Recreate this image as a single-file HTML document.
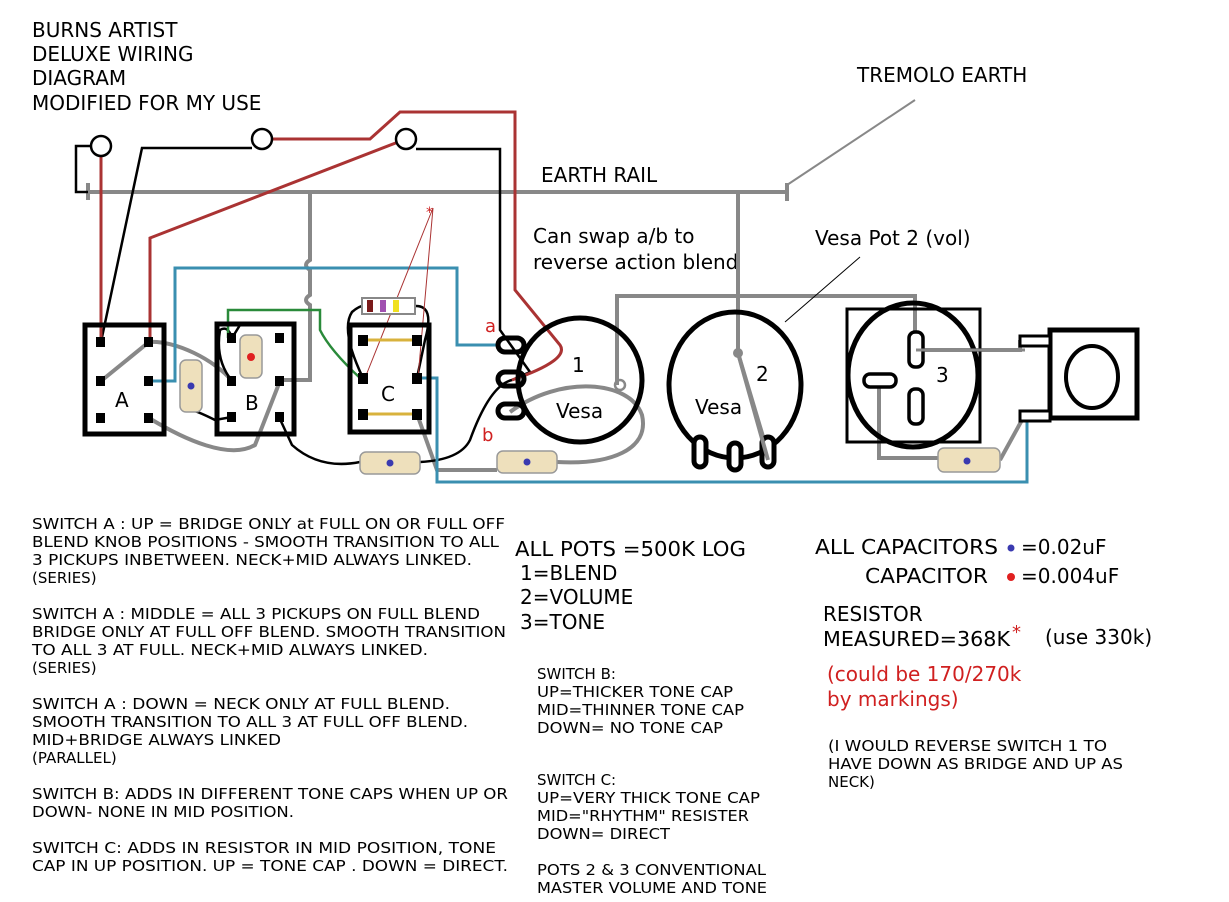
<!DOCTYPE html>
<html><head><meta charset="utf-8"><style>
html,body{margin:0;padding:0;background:#fff;}
svg{display:block;font-family:"DejaVu Sans","Liberation Sans",sans-serif;}
</style></head><body>
<svg width="1229" height="902" viewBox="0 0 1229 902" xmlns="http://www.w3.org/2000/svg">
<rect width="1229" height="902" fill="#fff"/>
<g fill="#000" font-size="20">
<text x="32" y="37">BURNS ARTIST</text>
<text x="32" y="61">DELUXE WIRING</text>
<text x="32" y="85">DIAGRAM</text>
<text x="32" y="110">MODIFIED FOR MY USE</text>
<text x="857" y="82">TREMOLO EARTH</text>
<text x="541" y="182">EARTH RAIL</text>
<text x="533" y="243">Can swap a/b to</text>
<text x="533" y="269">reverse action blend</text>
<text x="815" y="245">Vesa Pot 2 (vol)</text>
<text x="572" y="372">1</text>
<text x="556" y="418">Vesa</text>
<text x="756" y="381">2</text>
<text x="695" y="414">Vesa</text>
<text x="936" y="382">3</text>
<text x="115" y="407">A</text>
<text x="245" y="410">B</text>
<text x="381" y="401">C</text>
</g>
<text x="485" y="332" fill="#d02020" font-size="18">a</text>
<text x="482" y="441" fill="#d02020" font-size="18">b</text>
<!-- earth rail -->
<g stroke="#888" stroke-width="4" fill="none">
<line x1="88" y1="192" x2="787" y2="192"/>
<line x1="88" y1="183" x2="88" y2="200"/>
<line x1="787" y1="183" x2="787" y2="201"/>
<path d="M310 192 V260 q-8 5 0 10 V295 q-8 5 0 10 V380 H280"/>
<path d="M738 192 V353 L770 460"/>
<path d="M617 385 V296 H915 V350"/>
<path d="M879 381 V458 H940"/>
<path d="M915 350 H1020 V342 H1025"/>
<path d="M1000 460 L1022 420"/>
<path d="M101 381 L149 342 C175 340 215 360 232 381"/>
<path d="M149 418 C185 440 230 460 255 445 L280 381"/>
<path d="M417 414 L437 470 H497 M557 462 C610 465 650 450 642 415 C630 380 560 375 510 412"/>
</g>
<line x1="787" y1="185" x2="915" y2="100" stroke="#888" stroke-width="2"/>
<line x1="785" y1="322" x2="860" y2="257" stroke="#000" stroke-width="1"/>
<!-- black wires -->
<g stroke="#000" stroke-width="2.5" fill="none">
<path d="M91 146 H76 V192 H88"/>
<path d="M101 342 L142 148 H252"/>
<path d="M416 149 H500 V330 L530 372 L512 380"/>
<path d="M232 338 L240 325 M232 381 Q215 360 220 330 Q228 325 232 338 M232 417 L215 420 Q195 410 190 410"/>
<path d="M279 417 L292 445 Q320 470 360 462 M420 462 Q460 460 470 440 Q490 385 512 380"/>
<path d="M363 378 Q340 330 352 312 Q360 305 365 306 M415 306 Q435 305 425 340 L417 378"/>
</g>
<!-- red wires -->
<g stroke="#a33" stroke-width="3" fill="none">
<path d="M101 146 V342"/>
<path d="M406 139 L150 238 V342"/>
<path d="M262 139 H370 L400 112 H515 V290 L560 345 Q570 360 512 380"/>
</g>
<!-- blue wires -->
<g stroke="#3a8fb0" stroke-width="3" fill="none">
<path d="M149 381 H175 V268 H457 V345 H500"/>
<path d="M417 378 H437 V482 H1027 V420"/>
</g>
<path d="M228 338 V310 H320 V330 Q330 350 360 378" stroke="#2a8a3a" stroke-width="2.5" fill="none"/>
<path d="M433 208 L365 378 M433 208 L418 378" stroke="#a33" stroke-width="1"/>
<text x="426" y="217" fill="#c22" font-size="14">*</text>
<!-- jack circles -->
<g fill="#fff" stroke="#000" stroke-width="2.5">
<circle cx="101" cy="146" r="10"/>
<circle cx="262" cy="139" r="10"/>
<circle cx="406" cy="139" r="10"/>
</g>
<!-- switches -->
<g fill="none" stroke="#000" stroke-width="5">
<rect x="85" y="325" width="79" height="109"/>
<rect x="217" y="324" width="77" height="110"/>
<rect x="350" y="325" width="79" height="107"/>
</g>
<g fill="#000">
<rect x="96" y="337" width="9" height="10"/><rect x="144" y="337" width="9" height="10"/>
<rect x="96" y="376" width="9" height="10"/><rect x="144" y="376" width="9" height="10"/>
<rect x="96" y="413" width="9" height="10"/><rect x="144" y="413" width="9" height="10"/>
<rect x="227" y="333" width="9" height="10"/><rect x="275" y="333" width="9" height="10"/>
<rect x="227" y="376" width="9" height="10"/><rect x="275" y="376" width="9" height="10"/>
<rect x="227" y="412" width="9" height="10"/><rect x="275" y="412" width="9" height="10"/>
<rect x="358" y="335" width="10" height="11"/><rect x="412" y="335" width="10" height="11"/>
<rect x="358" y="373" width="10" height="11"/><rect x="412" y="373" width="10" height="11"/>
<rect x="358" y="409" width="10" height="11"/><rect x="412" y="409" width="10" height="11"/>
</g>
<g stroke="#d8b23c" stroke-width="3"><line x1="368" y1="340" x2="412" y2="340"/><line x1="368" y1="414" x2="412" y2="414"/></g>
<!-- resistor -->
<rect x="362" y="298" width="53" height="16" fill="#fff" stroke="#888" stroke-width="2"/>
<rect x="367" y="300" width="6" height="12" fill="#7a1a1a"/>
<rect x="380" y="300" width="6" height="12" fill="#a050b0"/>
<rect x="393" y="300" width="6" height="12" fill="#f0e020"/>
<!-- caps -->
<g fill="#eee0bc" stroke="#999" stroke-width="1.5">
<rect x="180" y="360" width="22" height="52" rx="6"/>
<rect x="240" y="335" width="22" height="43" rx="6"/>
<rect x="360" y="452" width="60" height="22" rx="6"/>
<rect x="497" y="451" width="60" height="22" rx="6"/>
<rect x="938" y="448" width="62" height="24" rx="6"/>
</g>
<g fill="#3a3ab0"><circle cx="191" cy="386" r="3.5"/><circle cx="390" cy="463" r="3.5"/><circle cx="527" cy="462" r="3.5"/><circle cx="967" cy="461" r="3.5"/></g>
<circle cx="251" cy="357" r="4" fill="#e02020"/>
<!-- pots -->
<g fill="none" stroke="#000" stroke-width="5">
<ellipse cx="580" cy="380" rx="62" ry="62"/>
<rect x="498" y="338" width="26" height="14" rx="7"/>
<rect x="498" y="372" width="26" height="14" rx="7"/>
<rect x="498" y="404" width="26" height="14" rx="7"/>
<ellipse cx="735" cy="385" rx="66" ry="73"/>
<rect x="694" y="437" width="12" height="30" rx="6" fill="#fff"/>
<rect x="729" y="443" width="12" height="27" rx="6" fill="#fff"/>
<rect x="762" y="437" width="12" height="30" rx="6" fill="#fff"/>
</g>
<g stroke="#888" stroke-width="4"><line x1="738" y1="353" x2="768" y2="460"/></g>
<circle cx="738" cy="353" r="5" fill="#888"/>
<circle cx="620" cy="385" r="5" fill="none" stroke="#888" stroke-width="2.5"/>
<rect x="847" y="309" width="133" height="133" fill="none" stroke="#000" stroke-width="3"/>
<ellipse cx="913" cy="375" rx="65" ry="72" fill="none" stroke="#000" stroke-width="5"/>
<g fill="#fff" stroke="#000" stroke-width="3.5">
<rect x="909" y="332" width="14" height="35" rx="6"/>
<rect x="864" y="374" width="32" height="13" rx="6"/>
<rect x="909" y="389" width="14" height="35" rx="6"/>
</g>
<line x1="916" y1="350" x2="1025" y2="350" stroke="#888" stroke-width="3"/>
<rect x="1050" y="330" width="87" height="88" fill="none" stroke="#000" stroke-width="5"/>
<ellipse cx="1092" cy="377" rx="26" ry="31" fill="none" stroke="#000" stroke-width="4"/>
<g fill="#fff" stroke="#000" stroke-width="3"><rect x="1020" y="336" width="30" height="10"/><rect x="1020" y="411" width="30" height="10"/></g>
<!-- bottom text -->
<g fill="#000" font-size="15">
<text x="32" y="529" textLength="473" lengthAdjust="spacingAndGlyphs">SWITCH A : UP = BRIDGE ONLY at FULL ON OR FULL OFF</text>
<text x="32" y="547" textLength="467" lengthAdjust="spacingAndGlyphs">BLEND KNOB POSITIONS - SMOOTH TRANSITION TO ALL</text>
<text x="32" y="565" textLength="440" lengthAdjust="spacingAndGlyphs">3 PICKUPS INBETWEEN. NECK+MID ALWAYS LINKED.</text>
<text x="32" y="583">(SERIES)</text>
<text x="32" y="619" textLength="448" lengthAdjust="spacingAndGlyphs">SWITCH A : MIDDLE = ALL 3 PICKUPS ON FULL BLEND</text>
<text x="32" y="637" textLength="474" lengthAdjust="spacingAndGlyphs">BRIDGE ONLY AT FULL OFF BLEND. SMOOTH TRANSITION</text>
<text x="32" y="655" textLength="396" lengthAdjust="spacingAndGlyphs">TO ALL 3 AT FULL. NECK+MID ALWAYS LINKED.</text>
<text x="32" y="673">(SERIES)</text>
<text x="32" y="709" textLength="418" lengthAdjust="spacingAndGlyphs">SWITCH A : DOWN = NECK ONLY AT FULL BLEND.</text>
<text x="32" y="727" textLength="436" lengthAdjust="spacingAndGlyphs">SMOOTH TRANSITION TO ALL 3 AT FULL OFF BLEND.</text>
<text x="32" y="745" textLength="249" lengthAdjust="spacingAndGlyphs">MID+BRIDGE ALWAYS LINKED</text>
<text x="32" y="763">(PARALLEL)</text>
<text x="32" y="799" textLength="476" lengthAdjust="spacingAndGlyphs">SWITCH B: ADDS IN DIFFERENT TONE CAPS WHEN UP OR</text>
<text x="32" y="817" textLength="262" lengthAdjust="spacingAndGlyphs">DOWN- NONE IN MID POSITION.</text>
<text x="32" y="853" textLength="464" lengthAdjust="spacingAndGlyphs">SWITCH C: ADDS IN RESISTOR IN MID POSITION, TONE</text>
<text x="32" y="871" textLength="476" lengthAdjust="spacingAndGlyphs">CAP IN UP POSITION. UP = TONE CAP . DOWN = DIRECT.</text>
<text x="537" y="679">SWITCH B:</text>
<text x="537" y="697" textLength="196" lengthAdjust="spacingAndGlyphs">UP=THICKER TONE CAP</text>
<text x="537" y="715" textLength="207" lengthAdjust="spacingAndGlyphs">MID=THINNER TONE CAP</text>
<text x="537" y="733" textLength="186" lengthAdjust="spacingAndGlyphs">DOWN= NO TONE CAP</text>
<text x="537" y="785">SWITCH C:</text>
<text x="537" y="803" textLength="223" lengthAdjust="spacingAndGlyphs">UP=VERY THICK TONE CAP</text>
<text x="537" y="821" textLength="212" lengthAdjust="spacingAndGlyphs">MID="RHYTHM" RESISTER</text>
<text x="537" y="839" textLength="133" lengthAdjust="spacingAndGlyphs">DOWN= DIRECT</text>
<text x="537" y="875" textLength="229" lengthAdjust="spacingAndGlyphs">POTS 2 &amp; 3 CONVENTIONAL</text>
<text x="537" y="893" textLength="230" lengthAdjust="spacingAndGlyphs">MASTER VOLUME AND TONE</text>
<text x="828" y="751" textLength="279" lengthAdjust="spacingAndGlyphs">(I WOULD REVERSE SWITCH 1 TO</text>
<text x="828" y="769" textLength="295" lengthAdjust="spacingAndGlyphs">HAVE DOWN AS BRIDGE AND UP AS</text>
<text x="828" y="787">NECK)</text>
</g>
<g fill="#000" font-size="20">
<text x="515" y="556" textLength="231" lengthAdjust="spacingAndGlyphs">ALL POTS =500K LOG</text>
<text x="520" y="580">1=BLEND</text>
<text x="520" y="604">2=VOLUME</text>
<text x="520" y="629">3=TONE</text>
<text x="815" y="554" textLength="183" lengthAdjust="spacingAndGlyphs">ALL CAPACITORS</text>
<text x="1021" y="554">=0.02uF</text>
<text x="865" y="583" textLength="123" lengthAdjust="spacingAndGlyphs">CAPACITOR</text>
<text x="1021" y="583">=0.004uF</text>
<text x="823" y="621">RESISTOR</text>
<text x="823" y="646" textLength="187" lengthAdjust="spacingAndGlyphs">MEASURED=368K</text>
<text x="1045" y="644">(use 330k)</text>
</g>
<circle cx="1011" cy="548" r="3.5" fill="#3a3ab0"/>
<circle cx="1011" cy="577" r="4" fill="#e02020"/>
<text x="1012" y="638" fill="#d02020" font-size="18">*</text>
<g fill="#d02020" font-size="20">
<text x="827" y="681">(could be 170/270k</text>
<text x="827" y="706">by markings)</text>
</g>
</svg>
</body></html>
